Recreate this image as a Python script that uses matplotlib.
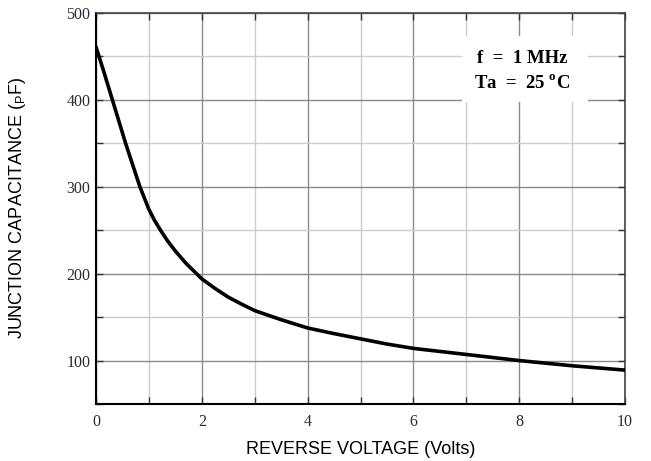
import matplotlib.pyplot as plt
from matplotlib.patches import Rectangle
from matplotlib.ticker import MultipleLocator

# junction capacitance vs reverse voltage
voltage = [0, 0.15, 0.3, 0.45, 0.56, 0.7, 0.83, 1.0, 1.1, 1.22, 1.35, 1.5, 1.7, 1.9, 2.0,
           2.25, 2.5, 2.75, 3, 3.5, 4, 4.5, 5, 5.5, 6, 6.5, 7, 7.5, 8, 8.5, 9, 9.5, 10]
capacitance = [461, 432, 402, 372, 350, 324, 300, 274, 262, 250, 238, 226, 212, 200, 194,
               183, 173, 165, 157.5, 147, 137.5, 131, 125, 119, 114, 110.5, 107, 103.5, 100, 97, 94, 91.5, 89]
x_ticks = [0, 2, 4, 6, 8, 10]
y_ticks = [100, 200, 300, 400, 500]

fig = plt.figure(figsize=(6.51, 4.61), dpi=100)
ax = fig.add_axes([96 / 651, 1 - 404 / 461, 529 / 651, 391 / 461])

ax.plot(voltage, capacitance, color='black', lw=2.6, solid_capstyle='round',
        solid_joinstyle='round', zorder=3)

ax.set_xlim(0, 10)
ax.set_ylim(50, 500)
ax.set_xticks(x_ticks)
ax.set_yticks(y_ticks)
ax.xaxis.set_minor_locator(MultipleLocator(1))
ax.yaxis.set_minor_locator(MultipleLocator(50))

ax.grid(which='major', color='#8a8a8a', lw=1.0)
ax.grid(which='minor', color='#cccccc', lw=1.0)
ax.set_axisbelow(True)

ax.tick_params(which='both', direction='in', top=True, right=True, length=5, width=1, colors='#333333',
               labelsize=11.5, labelcolor='#2a2a3a')
ax.tick_params(axis='x', pad=7)
ax.tick_params(axis='y', pad=4)
for lab in ax.get_xticklabels() + ax.get_yticklabels():
    lab.set_family('Liberation Serif')

for side in ['left', 'bottom']:
    ax.spines[side].set_color('black')
    ax.spines[side].set_linewidth(1.5)
for side in ['right', 'top']:
    ax.spines[side].set_color('#444444')
    ax.spines[side].set_linewidth(1.2)

ax.set_xlabel('REVERSE VOLTAGE (Volts)', family='Liberation Sans', fontsize=13, labelpad=8)
ax.set_ylabel('JUNCTION CAPACITANCE ($_\\mathregular{P}$F)', family='Liberation Sans', fontsize=13, labelpad=28)

# white box behind the conditions text
ax.add_patch(Rectangle((6.92, 397), 2.38, 76, facecolor='white', edgecolor='none', zorder=2.5))
ax.text(8.06, 448, 'f  =  1 MHz', family='Liberation Serif', fontweight='bold',
        fontsize=13.5, ha='center', va='center', zorder=4)
ax.text(8.06, 420, 'Ta  =  25 $^\\mathregular{o}$C', family='Liberation Serif', fontweight='bold',
        fontsize=13.5, ha='center', va='center', zorder=4)

fig.savefig('out.png', dpi=100)
